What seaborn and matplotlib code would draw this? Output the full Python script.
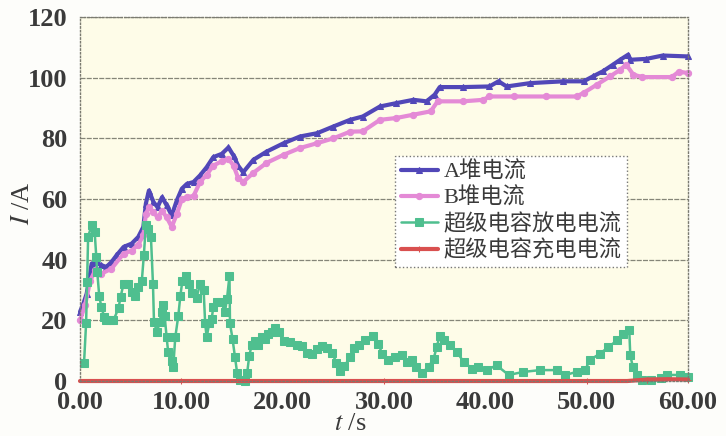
import matplotlib
matplotlib.use("Agg")
import matplotlib.pyplot as plt
import seaborn as sns

# current of stack A / stack B and supercapacitor discharge / charge current
# values (t in s, I in A)

a_t = [0, 0.33, 0.66, 1.0, 1.15, 1.5, 2.1, 2.6, 3.1, 3.6, 4.3, 5.1, 5.75, 6.25, 6.5,
       6.8, 7.25, 7.65, 8.1, 8.55, 9.05, 9.55, 10.05, 10.55, 11.2, 11.85, 12.5, 13.15,
       14.0, 14.65, 15.15, 15.6, 16.1, 17.1, 18.4, 20.1, 21.7, 23.4, 25.0, 26.65, 27.9,
       29.6, 31.2, 32.9, 34.2, 35.0, 35.5, 37.8, 40.4, 41.3, 42.1, 44.4, 47.7, 49.7,
       50.6, 51.6, 52.6, 53.3, 54.1, 54.3, 55.9, 57.5, 60.0]
a_i = [22.8, 25.5, 28.8, 35.4, 38.7, 39.2, 38.2, 37.6, 39.2, 41.4, 44.2, 45.3, 47.5, 50.8,
       58.5, 62.8, 59, 57.3, 60.6, 57.9, 54.6, 59.5, 63.4, 65, 65.6, 67.8, 70.5, 73.8,
       74.9, 77, 74.3, 71, 68.8, 72.9, 75.6, 78.4, 80.6, 81.7, 83.9, 86.1, 87.2, 90.5,
       91.6, 92.7, 92.2, 94.4, 96.9, 96.9, 97.1, 98.8, 97.1, 98.2, 98.8, 98.8, 100.4,
       102.1, 104.3, 105.9, 107.6, 105.9, 106.2, 107.3, 107]

b_t = [0, 0.5, 1.0, 1.5, 2.1, 3.1, 4.3, 5.1, 5.75, 6.25, 6.5, 6.8, 7.25, 7.65, 8.1, 8.55,
       9.05, 9.55, 10.05, 10.55, 11.2, 11.85, 12.5, 13.15, 14.0, 14.65, 15.15, 15.6, 16.1,
       17.1, 18.4, 20.1, 21.7, 23.4, 25.0, 26.65, 27.9, 29.6, 31.2, 32.9, 34.6, 35.3,
       37.8, 39.8, 40.4, 42.8, 46.0, 49.0, 49.7, 51.0, 52.3, 53.3, 53.9, 54.6, 55.5,
       58.4, 59.1, 60.0]
b_i = [20, 25, 33, 36.5, 35.4, 37, 42, 43, 45, 48, 55, 57.3, 55.7, 54, 56, 54, 50.8, 55,
       60, 60.6, 61, 65.6, 68, 71, 72.5, 73.3, 71, 67, 65.6, 68.6, 71.9, 74.6, 76.8, 78.4,
       80, 82.2, 82.3, 86.1, 86.7, 87.8, 88.9, 92.2, 92.2, 92.7, 93.8, 93.8, 93.8, 93.8,
       95, 97.7, 100.4, 102.6, 104.3, 101, 100.2, 100.2, 102, 101.5]

dis_t = [0.4, 0.6, 0.7, 0.8, 1.15, 1.45, 1.6, 1.7, 1.9, 2.1, 2.4, 2.6, 3.0, 3.3, 3.8, 4.0,
         4.3, 4.7, 5.1, 5.4, 5.75, 6.1, 6.3, 6.5, 6.75, 7.0, 7.2, 7.3, 7.6, 7.85, 8.05,
         8.2, 8.35, 8.55, 8.7, 9.05, 9.2, 9.4, 9.7, 9.9, 10.1, 10.45, 10.8, 11.1, 11.5,
         11.85, 12.2, 12.35, 12.5, 12.75, 13.0, 13.15, 13.5, 13.95, 14.3, 14.5, 14.75,
         14.8, 15.05, 15.3, 15.5, 15.8, 16.3, 16.5, 16.7, 16.95, 17.3, 17.6, 17.95, 18.3,
         18.6, 18.9, 19.25, 19.6, 20.1, 20.7, 21.4, 21.9, 22.4, 22.9, 23.35, 23.85, 24.35,
         24.85, 25.3, 25.65, 26.1, 26.65, 27.0, 27.5, 28.1, 28.95, 29.45, 29.8, 30.4,
         31.1, 31.75, 32.25, 32.75, 33.2, 33.7, 34.4, 34.9, 35.2, 35.5, 35.9, 36.5, 37.2,
         37.85, 38.7, 39.3, 40.15, 41.1, 42.3, 43.75, 45.4, 47.05, 47.9, 49.0, 49.85,
         50.3, 51.3, 52.15, 53.0, 53.6, 54.2, 54.3, 54.55, 54.95, 55.45, 56.3, 57.3,
         57.9, 59.2, 60.0]
dis_i = [6.1, 19, 32.5, 47.5, 51.5, 49, 41, 36, 28, 24.5, 21, 20, 20, 20, 24, 27.7, 32, 32,
         29.5, 28, 31, 33, 41.5, 51.5, 50, 47.5, 32, 19.5, 16, 19.5, 22.8, 25, 21.5, 14.4,
         9.5, 6.7, 4.5, 14.4, 21.5, 28, 33, 34.7, 32, 29, 27.5, 32, 30, 19, 14.4, 19, 20.5,
         24.4, 26, 26, 22.8, 27, 34.7, 19, 13.9, 7.8, 2.8, 0.5, 0, 2.8, 8.3, 12, 13.2, 12,
         14.4, 13.9, 15.5, 16, 17.6, 16, 13.2, 12.7, 12, 11.5, 9.4, 8.8, 10.5, 11.5, 11,
         9.4, 6.1, 3.3, 5, 7.8, 11, 12, 13.4, 14.7, 12.3, 9, 6.9, 7.9, 8.5, 6.3, 6.9, 4.7,
         2.5, 4.7, 7.4, 11.2, 15, 13.4, 11.8, 9.6, 6.3, 4.1, 4.7, 3.6, 5.2, 2, 3, 3.6, 3.6,
         2, 3, 3.6, 6.9, 9, 11.2, 13.4, 15.6, 16.9, 8.5, 4.7, 2, 0.3, 0.3, 1, 2, 2, 1.3]

chg_t = [0, 10, 20, 30, 40, 50, 54, 56, 58, 60]
chg_i = [0, 0, 0, 0, 0, 0, 0, 0.5, 0.6, 0.5]

labels = ["A堆电流", "B堆电流", "超级电容放电电流", "超级电容充电电流"]
x_ticks = [0, 10, 20, 30, 40, 50, 60]
y_ticks = [0, 20, 40, 60, 80, 100, 120]

#----------------------------------------------------------------------------#

sns.set_theme(style="white")
plt.rcParams["font.family"] = ["Liberation Serif", "Noto Sans CJK SC"]
plt.rcParams["mathtext.fontset"] = "stix"

fig = plt.figure(figsize=(7.26, 4.36), dpi=100, facecolor="#fdfdfa")
ax = fig.add_axes([0.1102, 0.1261, 0.8375, 0.8349])
ax.set_facecolor("#fefce8")

sns.lineplot(x=a_t, y=a_i, ax=ax, color="#5147b8", lw=3.0, marker="^", ms=5,
             mec="#5147b8", label=labels[0], estimator=None, sort=False, clip_on=False)
sns.lineplot(x=b_t, y=b_i, ax=ax, color="#e48ad6", lw=3.0, marker="o", ms=4.5,
             mec="#e48ad6", label=labels[1], estimator=None, sort=False, clip_on=False)
sns.lineplot(x=dis_t, y=dis_i, ax=ax, color="#4fbf8f", lw=1.8, marker="s", ms=6,
             mec="#4fbf8f", label=labels[2], estimator=None, sort=False, clip_on=False)
sns.lineplot(x=chg_t, y=chg_i, ax=ax, color="#d9504f", lw=3.0, marker="+", ms=4,
             mec="#d9504f", label=labels[3], estimator=None, sort=False, clip_on=False,
             markevery=[1, 3, 5, 7, 9])

ax.set_xlim(0, 60)
ax.set_ylim(0, 120)
ax.set_xticks(x_ticks, ["%.2f" % v for v in x_ticks], fontsize=19, fontweight="bold",
              color="#3a3a3a")
ax.set_yticks(y_ticks, [str(v) for v in y_ticks], fontsize=19, fontweight="bold",
              color="#3a3a3a")
ax.tick_params(axis="x", length=0, pad=7)
ax.tick_params(axis="y", length=0, pad=9)

ax.yaxis.grid(True, color="#858578", lw=0.9, ls=(0, (4, 1)))
ax.xaxis.grid(False)
for s in ax.spines.values():
    s.set_color("#7a7a70")
    s.set_linestyle(":")
    s.set_linewidth(1.0)

ax.set_xlabel("$t$ /s", fontsize=19, color="#3a3a3a", va="center")
ax.xaxis.set_label_coords(0.444, -0.117)
ax.set_ylabel("$I$ /A", fontsize=19, color="#3a3a3a", va="center")
ax.yaxis.set_label_coords(-0.093, 0.49)

leg = ax.legend(loc="upper left", bbox_to_anchor=(0.518, 0.618), borderaxespad=0,
                prop={"family": ["Liberation Serif", "Noto Sans CJK SC"], "size": 16},
                handlelength=1.7, handletextpad=0.25, labelspacing=0.22, borderpad=0.25,
                fancybox=False, framealpha=1, facecolor="white", edgecolor="#777777")
leg.get_frame().set_linestyle(":")
for txt in leg.get_texts():
    txt.set_color("#3a3a3a")

plt.savefig("out.png", dpi=100, facecolor=fig.get_facecolor())
